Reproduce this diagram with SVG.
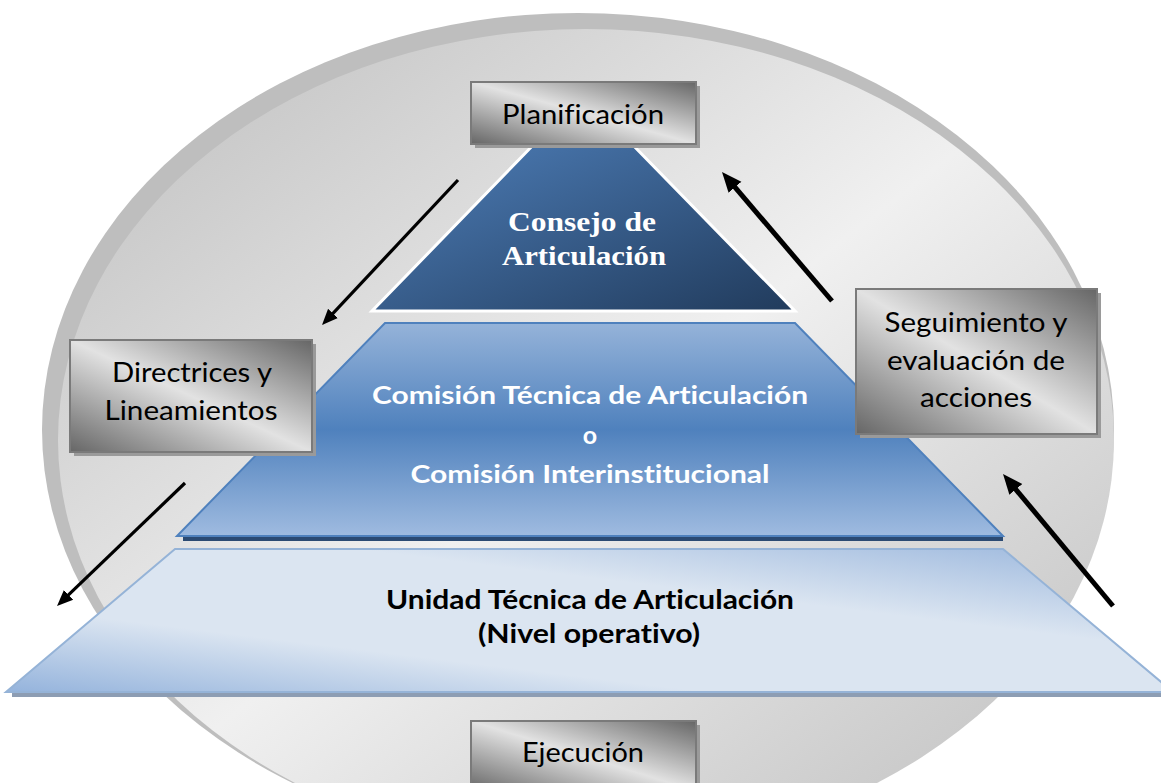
<svg xmlns="http://www.w3.org/2000/svg" width="1161" height="783" viewBox="0 0 1161 783">
<defs>
<linearGradient id="gEll" x1="0" y1="0" x2="1" y2="1">
<stop offset="0" stop-color="#bcbcbc"/>
<stop offset="0.5" stop-color="#f0f0f0"/>
<stop offset="1" stop-color="#bcbcbc"/>
</linearGradient>
<linearGradient id="gBox" x1="0" y1="1" x2="1" y2="0">
<stop offset="0" stop-color="#666666"/>
<stop offset="0.5" stop-color="#e2e2e2"/>
<stop offset="1" stop-color="#666666"/>
</linearGradient>
<linearGradient id="gTop" x1="0" y1="0" x2="1" y2="1">
<stop offset="0" stop-color="#4f80bb"/>
<stop offset="1" stop-color="#213b5c"/>
</linearGradient>
<linearGradient id="gMid" x1="0" y1="0" x2="0" y2="1">
<stop offset="0" stop-color="#95b3d9"/>
<stop offset="0.5" stop-color="#4f81bd"/>
<stop offset="1" stop-color="#9fbbe0"/>
</linearGradient>
<linearGradient id="gLow" x1="0" y1="1" x2="1" y2="0">
<stop offset="0" stop-color="#94b3dc"/>
<stop offset="0.3" stop-color="#dbe5f1"/>
<stop offset="0.65" stop-color="#dbe5f1"/>
<stop offset="1" stop-color="#98b5dc"/>
</linearGradient>
<marker id="mThin" viewBox="0 0 10 10" refX="3" refY="5" markerWidth="16" markerHeight="16" markerUnits="userSpaceOnUse" orient="auto">
<path d="M0,0.8 L10,5 L0,9.2 z" fill="#000"/>
</marker>
<marker id="mThick" viewBox="0 0 10 10" refX="3" refY="5" markerWidth="20" markerHeight="20" markerUnits="userSpaceOnUse" orient="auto">
<path d="M0,0.8 L10,5 L0,9.2 z" fill="#000"/>
</marker>
</defs>
<style>
text{font-variant-ligatures:none;font-feature-settings:"liga" 0,"clig" 0}
.box{fill:url(#gBox);stroke:#7a7a7a;stroke-width:2}
.shadow{fill:#9a9a9a}
.lbl{font-family:Lato,"Liberation Sans",sans-serif;font-size:27px;fill:#000;text-anchor:middle}
.wb{font-family:Lato,"Liberation Sans",sans-serif;font-size:25px;font-weight:bold;fill:#fff;text-anchor:middle}
.bb{font-family:Lato,"Liberation Sans",sans-serif;font-size:26px;font-weight:bold;fill:#000;text-anchor:middle}
.serif{font-family:"Liberation Serif","DejaVu Serif",serif;font-size:28px;font-weight:bold;fill:#fff;text-anchor:middle}
.arr{stroke:#000;fill:none}
</style>
<rect width="1161" height="783" fill="#fff"/>
<g id="background">
<ellipse cx="578" cy="430" rx="536" ry="417" fill="#bebebe"/>
<ellipse cx="586" cy="440" rx="528" ry="411" fill="url(#gEll)"/>
</g>
<g id="unidad">
<rect x="12" y="690" width="1149" height="7" fill="#8d9db3"/>
<polygon points="175,549 1003,549 1173,692 6,692" fill="url(#gLow)" stroke="#95b3d7" stroke-width="2"/>
<text class="bb" x="590" y="609" textLength="408" lengthAdjust="spacingAndGlyphs">Unidad Técnica de Articulación</text>
<text class="bb" x="589" y="643" textLength="222" lengthAdjust="spacingAndGlyphs">(Nivel operativo)</text>
</g>
<g id="comision">
<rect x="183" y="536" width="820" height="5" fill="#2b4a72"/>
<polygon points="385,323 795,323 1003,536 177,536" fill="url(#gMid)" stroke="#4f81bd" stroke-width="2"/>
<text class="wb" x="590" y="404" textLength="436" lengthAdjust="spacingAndGlyphs">Comisión Técnica de Articulación</text>
<text class="wb" x="590" y="444">o</text>
<text class="wb" x="590" y="483" textLength="359" lengthAdjust="spacingAndGlyphs">Comisión Interinstitucional</text>
</g>
<g id="consejo">
<polygon points="540,138 626,138 795,311 372,311" fill="url(#gTop)" stroke="#ffffff" stroke-width="3" stroke-linejoin="miter"/>
<text class="serif" x="582" y="231" textLength="148" lengthAdjust="spacingAndGlyphs">Consejo de</text>
<text class="serif" x="584" y="265" textLength="164" lengthAdjust="spacingAndGlyphs">Articulación</text>
</g>
<g id="planificacion">
<rect class="shadow" x="475" y="86" width="225" height="62"/>
<rect class="box" x="471" y="82" width="225" height="62"/>
<text class="lbl" x="583" y="124" textLength="162" lengthAdjust="spacingAndGlyphs">Planificación</text>
</g>
<g id="directrices">
<rect class="shadow" x="74" y="344" width="242" height="112"/>
<rect class="box" x="70" y="340" width="242" height="112"/>
<text class="lbl" x="192" y="382" textLength="160" lengthAdjust="spacingAndGlyphs">Directrices y</text>
<text class="lbl" x="191" y="420" textLength="173" lengthAdjust="spacingAndGlyphs">Lineamientos</text>
</g>
<g id="seguimiento">
<rect class="shadow" x="860" y="293" width="241" height="145"/>
<rect class="box" x="856" y="289" width="241" height="145"/>
<text class="lbl" x="976" y="332" textLength="183" lengthAdjust="spacingAndGlyphs">Seguimiento y</text>
<text class="lbl" x="976" y="370" textLength="178" lengthAdjust="spacingAndGlyphs">evaluación de</text>
<text class="lbl" x="976" y="407" textLength="112" lengthAdjust="spacingAndGlyphs">acciones</text>
</g>
<g id="ejecucion">
<rect class="shadow" x="475" y="725" width="225" height="70"/>
<rect class="box" x="471" y="721" width="225" height="70"/>
<text class="lbl" x="583" y="762" textLength="122" lengthAdjust="spacingAndGlyphs">Ejecución</text>
</g>
<g id="connectors">
<line class="arr" x1="458" y1="180" x2="329.7" y2="316.8" stroke-width="3.2" marker-end="url(#mThin)"/>
<line class="arr" x1="185" y1="483" x2="65.1" y2="598.2" stroke-width="3.2" marker-end="url(#mThin)"/>
<line class="arr" x1="832" y1="301" x2="731.1" y2="182.7" stroke-width="5" marker-end="url(#mThick)"/>
<line class="arr" x1="1113" y1="606" x2="1012" y2="484.8" stroke-width="5" marker-end="url(#mThick)"/>
</g>
</svg>
